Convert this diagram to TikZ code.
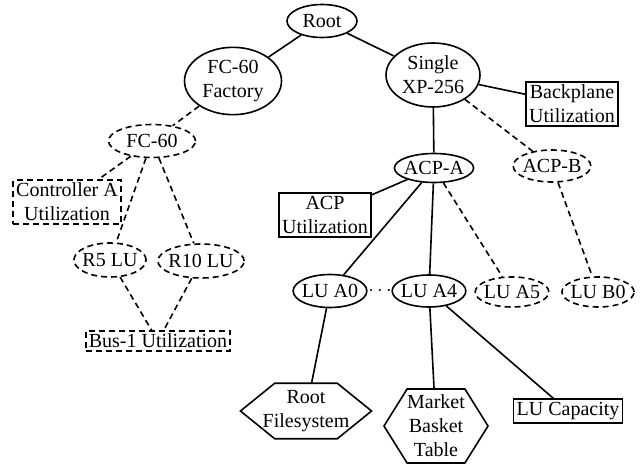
\documentclass[tikz,border=0pt]{standalone}
\usepackage{fontspec}
\setmainfont{Liberation Serif}
\usetikzlibrary{shapes.geometric,shapes.symbols}

\begin{document}
\begin{tikzpicture}[x=0.5pt,y=-0.5pt,line width=0.8pt,
  font=\fontsize{10}{12}\selectfont,
  comp node/.style={ellipse,draw,align=center,inner xsep=-1pt,inner ysep=1.5pt},
  opt node/.style={comp node,dash pattern=on 3pt off 2pt},
  metric node/.style={rectangle,draw,align=center,inner sep=1.5pt},
  opt metric/.style={metric node,dash pattern=on 3pt off 2pt},
  data node/.style={signal,signal to=east and west,draw,align=center},
  opt edge/.style={dash pattern=on 3pt off 2pt}]

  \useasboundingbox (0,0) rectangle (644,465);

  \node[comp node,minimum width=35pt,minimum height=16.5pt] (root) at (322,21) {Root};
  \node[comp node,minimum width=48.5pt,minimum height=26pt] (fcf) at (233,81) {FC-60\\Factory};
  \node[comp node,minimum width=47pt,minimum height=32pt] (xp) at (433,75) {Single\\XP-256};
  \node[metric node] (bpu) at (572,104) {Backplane\\Utilization};

  \node[opt node,minimum width=43.5pt,minimum height=16.5pt] (fc) at (152,141) {FC-60};
  \node[opt metric] (cau) at (67,202) {Controller A\\Utilization};
  \node[opt node,minimum height=17pt] (r5) at (110,260) {R5 LU};
  \node[opt node,minimum height=17pt] (r10) at (201,261) {R10 LU};
  \node[opt metric] (bus) at (158,341) {Bus-1 Utilization};

  \node[comp node,minimum height=14.5pt] (acpa) at (434,168) {ACP-A};
  \node[opt node,minimum height=16pt] (acpb) at (552,166) {ACP-B};
  \node[metric node] (acpu) at (325,215) {ACP\\Utilization};

  \node[comp node,minimum height=16.5pt] (lua0) at (330,291) {LU A0};
  \node (dots) at (380,291) {$\cdots$};
  \node[comp node,minimum height=16pt] (lua4) at (429,291) {LU A4};
  \node[opt node,minimum height=15pt] (lua5) at (512,292) {LU A5};
  \node[opt node,minimum height=15pt] (lub0) at (598,292) {LU B0};

  \node[data node,signal pointer angle=78,inner xsep=-6pt,inner ysep=3.5pt] (rfs) at (306,411) {Root\\Filesystem};
  \node[data node,signal pointer angle=116,inner xsep=0pt,inner ysep=3pt] (mbt) at (436,426) {Market\\Basket\\Table};
  \node[metric node] (luc) at (568,411) {LU Capacity};

  \path
    (root) edge (fcf)
    (root) edge (xp)
    (xp) edge (bpu)
    (xp) edge (acpa)
    (acpa) edge (acpu)
    (acpa) edge (lua0)
    (acpa) edge (lua4)
    (lua0) edge (rfs)
    (lua4) edge (mbt)
    (lua4) edge (luc);

  \path[opt edge]
    (fcf) edge (fc)
    (fc) edge (cau)
    (fc) edge (r5)
    (fc) edge (r10)
    (r5) edge (bus)
    (r10) edge (bus)
    (xp) edge (acpb)
    (acpa) edge (lua5)
    (acpb) edge (lub0);
\end{tikzpicture}
\end{document}
